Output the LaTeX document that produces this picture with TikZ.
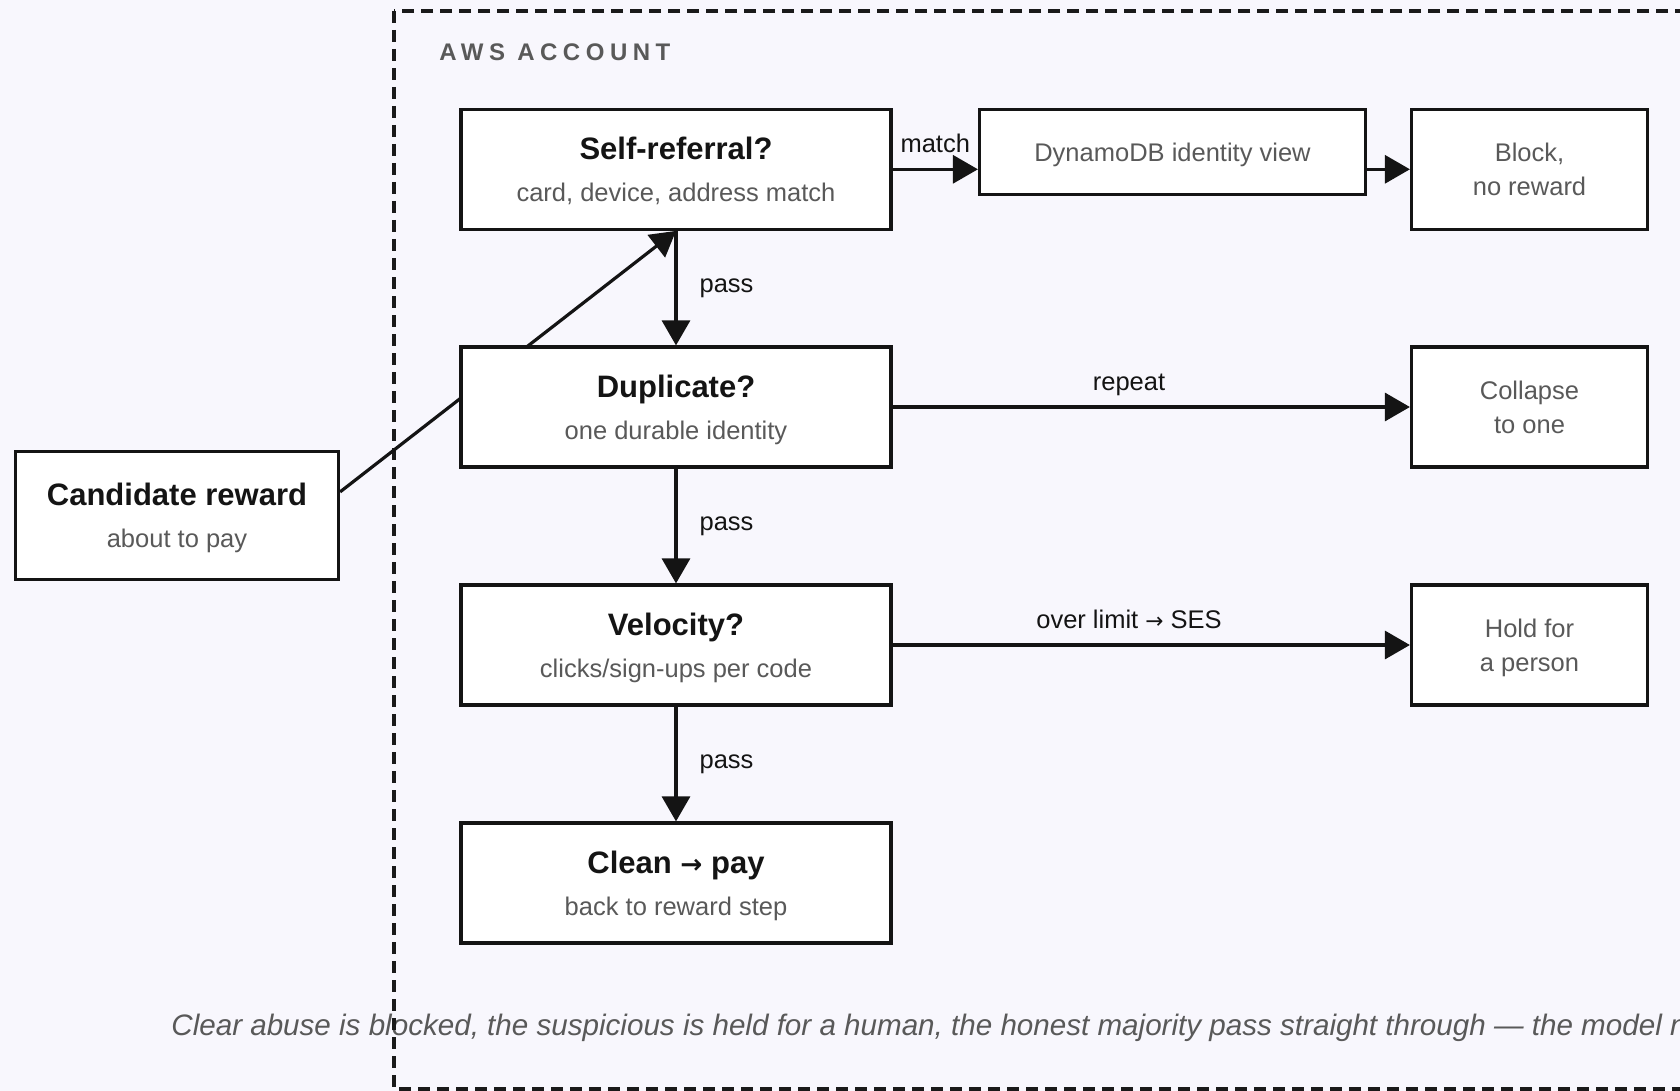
\documentclass[tikz,border=0pt]{standalone}
\usepackage{fontspec}
\setmainfont{Liberation Sans}
\newfontfamily\arrowfont{DejaVu Sans}
\usetikzlibrary{arrows.meta,calc}

\definecolor{canvas}{HTML}{F8F7FD}
\definecolor{ink}{HTML}{141414}
\definecolor{muted}{HTML}{595959}
\definecolor{frameclr}{HTML}{1A1A1A}

\pgfdeclarelayer{back}
\pgfdeclarelayer{wires}
\pgfsetlayers{back,wires,main}

% text styles
\newcommand{\ttl}{\fontsize{15.5}{21}\selectfont\bfseries\color{ink}}
\newcommand{\subt}{\fontsize{12.75}{21}\selectfont\color{muted}}
\newcommand{\toarrow}{{\arrowfont\fontsize{0.85em}{1em}\selectfont →}}

\begin{document}
\begin{tikzpicture}[x=0.5pt,y=-0.5pt,
  box/.style={draw=ink, line width=1.6pt, fill=white, inner sep=0pt, align=center, text depth=0pt},
  check/.style={box, minimum width=215pt, minimum height=60pt, font=\fontsize{12.75}{21}\selectfont},
  result/.style={box, minimum width=118pt, minimum height=60pt, text=muted, font=\fontsize{12.75}{17}\selectfont},
  flow/.style={draw=ink, line width=1.6pt, -{Triangle[length=12.5pt,width=14pt]}},
  lbl/.style={text=ink, inner sep=0pt, font=\fontsize{12.75}{15}\selectfont},
  hlbl/.style={lbl, anchor=base, yshift=8.5pt},
  vlbl/.style={lbl, anchor=west, xshift=11pt}
]
\useasboundingbox (0,0) rectangle (1680,1091);

\begin{pgfonlayer}{back}
  \fill[canvas] (0,0) rectangle (1680,1091);
  \node[anchor=base west, inner sep=0pt, text=muted,
        font=\fontsize{14.8}{17}\selectfont\itshape] (caption) at (171,1035)
    {Clear abuse is blocked, the suspicious is held for a human, the honest majority pass straight through — the model n};
  \draw[frameclr, line width=1.6pt, dash pattern=on 6pt off 3.5pt]
    (394,11) rectangle (1720,1089);
\end{pgfonlayer}

% account label
\node[anchor=west, inner sep=0pt, text=muted,
      font=\fontsize{12}{14}\selectfont\bfseries\addfontfeature{LetterSpace=23}] (acct) at (439,52.5) {AWS ACCOUNT};

% outside the account
\node[check, minimum width=161.5pt, minimum height=64pt] (cand) at (177,515.5)
  {{\ttl Candidate reward}\\{\subt about to pay}};

% check chain
\node[check] (self)  at (676,169.3) {{\ttl Self-referral?}\\{\subt card, device, address match}};
\node[check] (dup)   at (676,407)   {{\ttl Duplicate?}\\{\subt one durable identity}};
\node[check] (vel)   at (676,645)   {{\ttl Velocity?}\\{\subt clicks/sign-ups per code}};
\node[check] (clean) at (676,883)   {{\ttl Clean \toarrow\ pay}\\{\subt back to reward step}};

% lookups and outcomes
\node[result, minimum width=193pt, minimum height=42.5pt] (dyn) at (1172.5,152) {DynamoDB identity view};
\node[result] (block)    at (1529.5,169.3) {Block,\\no reward};
\node[result] (collapse) at (1529.5,407)   {Collapse\\to one};
\node[result] (hold)     at (1529.5,645)   {Hold for\\a person};

% entry link, passing behind the duplicate check
\begin{pgfonlayer}{wires}
  \draw[flow] ($(cand.north east)!0.32!(cand.south east)$) -- (self.south);
\end{pgfonlayer}

% pass path
\draw[flow] (self) -- node[vlbl] {pass} (dup);
\draw[flow] (dup)  -- node[vlbl] {pass} (vel);
\draw[flow] (vel)  -- node[vlbl] {pass} (clean);

% branches
\draw[flow] (self.east) -- node[hlbl] {match} (self.east -| dyn.west);
\draw[flow] (dyn.east |- self.east) -- (block.west);
\draw[flow] (dup) -- node[hlbl, pos=0.457] {repeat} (collapse);
\draw[flow] (vel) -- node[hlbl, pos=0.457] {over limit \toarrow\ SES} (hold);
\end{tikzpicture}
\end{document}
